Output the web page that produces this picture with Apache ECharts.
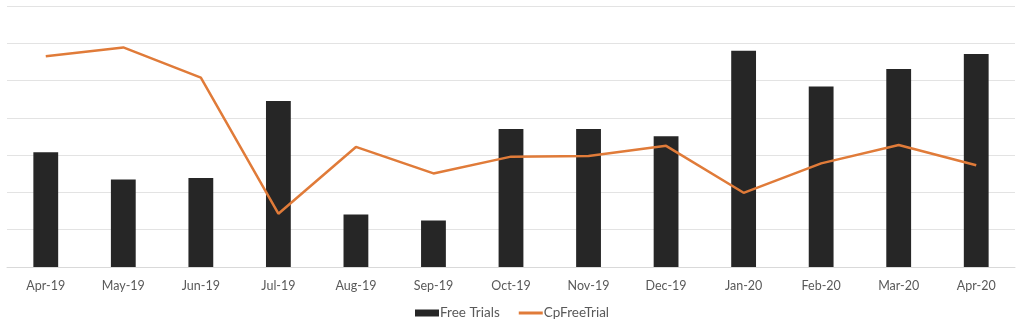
<!DOCTYPE html>
<html>
<head>
<meta charset="utf-8">
<script src="https://cdn.jsdelivr.net/npm/echarts@6/dist/echarts.min.js"></script>
<style>
  html, body { margin: 0; padding: 0; background: #ffffff; }
  #chart { width: 1024px; height: 334px; }
</style>
</head>
<body>
<div id="chart"></div>
<script>
// Monthly categories
const months = ['Apr-19', 'May-19', 'Jun-19', 'Jul-19', 'Aug-19', 'Sep-19', 'Oct-19',
                'Nov-19', 'Dec-19', 'Jan-20', 'Feb-20', 'Mar-20', 'Apr-20'];

// Free trials per month (bars, left axis)
const freeTrials = [308, 235, 239, 445, 141, 125, 370, 370, 351, 580, 484, 531, 571];

// Cost per free trial (line, right axis)
const cpFreeTrial = [56.5, 58.9, 50.8, 14.3, 32.2, 25.1, 29.6, 29.8, 32.5, 19.9, 27.8, 32.7, 27.3];

const chart = echarts.init(document.getElementById('chart'));

chart.setOption({
  animation: false,
  textStyle: { fontFamily: 'Lato, "Open Sans", sans-serif' },
  grid: { left: 7, right: 9, top: 6, bottom: 67, containLabel: false },
  legend: {
    bottom: 9,
    left: 'center',
    itemWidth: 24,
    itemHeight: 7,
    itemGap: 19,
    textStyle: { color: '#595959', fontSize: 13.5, padding: [0, 0, 0, -4] },
    data: [
      { name: 'Free Trials', icon: 'rect' },
      { name: 'CpFreeTrial', icon: 'path://M0,0 L24,0 L24,3 L0,3 Z' }
    ]
  },
  xAxis: {
    type: 'category',
    data: months,
    axisLine: { show: true, lineStyle: { color: '#d9d9d9', width: 1 } },
    axisTick: { show: false },
    axisLabel: { color: '#595959', fontSize: 12.5, margin: 12 }
  },
  yAxis: [
    {
      type: 'value',
      min: 0,
      max: 700,
      interval: 100,
      axisLabel: { show: false },
      axisLine: { show: false },
      axisTick: { show: false },
      splitLine: { lineStyle: { color: '#e3e3e3', width: 1 } }
    },
    {
      type: 'value',
      min: 0,
      max: 70,
      interval: 10,
      axisLabel: { show: false },
      axisLine: { show: false },
      axisTick: { show: false },
      splitLine: { show: false }
    }
  ],
  series: [
    {
      name: 'Free Trials',
      type: 'bar',
      yAxisIndex: 0,
      data: freeTrials,
      barWidth: '32%',
      itemStyle: { color: '#262626' }
    },
    {
      name: 'CpFreeTrial',
      type: 'line',
      yAxisIndex: 1,
      data: cpFreeTrial,
      symbol: 'none',
      lineStyle: { color: '#e07b39', width: 2.5 },
      itemStyle: { color: '#e07b39' }
    }
  ]
});
</script>
</body>
</html>
